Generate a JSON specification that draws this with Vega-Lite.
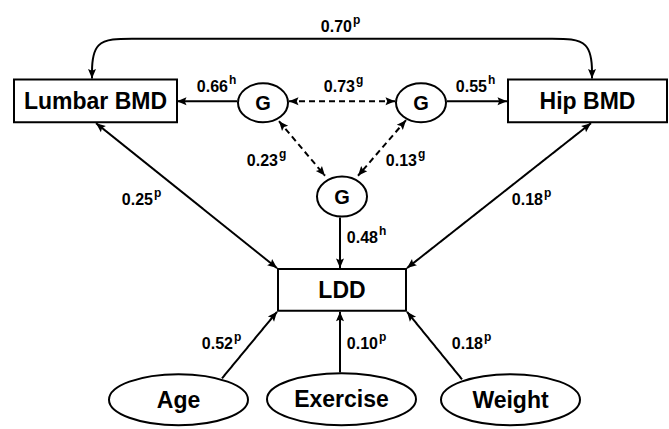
{
  "$schema": "https://vega.github.io/schema/vega-lite/v6.json",
  "width": 669,
  "height": 429,
  "autosize": {"type": "fit", "contains": "padding"},
  "padding": 0,
  "background": "white",
  "config": {"view": {"stroke": null}, "font": "Liberation Sans"},
  "datasets": {
    "nodes": [
      {"label": "Lumbar BMD", "kind": "box", "x1": 14, "x2": 177, "y1": 80, "y2": 123},
      {"label": "Hip BMD", "kind": "box", "x1": 508, "x2": 667, "y1": 80, "y2": 123},
      {"label": "LDD", "kind": "box", "x1": 278, "x2": 406, "y1": 271, "y2": 313},
      {"label": "G", "kind": "oval", "x1": 238, "x2": 288, "y1": 84, "y2": 123},
      {"label": "G", "kind": "oval", "x1": 396, "x2": 446, "y1": 84, "y2": 123},
      {"label": "G", "kind": "oval", "x1": 317, "x2": 367, "y1": 178, "y2": 218},
      {"label": "Age", "kind": "oval", "x1": 109, "x2": 248, "y1": 377, "y2": 428},
      {"label": "Exercise", "kind": "oval", "x1": 267, "x2": 416, "y1": 376, "y2": 428},
      {"label": "Weight", "kind": "oval", "x1": 441, "x2": 580, "y1": 377, "y2": 428}
    ],
    "edges": [
      {"x1": 177, "y1": 102, "x2": 237, "y2": 102, "style": "solid"},
      {"x1": 289, "y1": 102, "x2": 395, "y2": 102, "style": "dashed"},
      {"x1": 447, "y1": 102, "x2": 507, "y2": 102, "style": "solid"},
      {"x1": 279, "y1": 122, "x2": 325, "y2": 177, "style": "dashed"},
      {"x1": 406, "y1": 121, "x2": 358, "y2": 177, "style": "dashed"},
      {"x1": 96, "y1": 124, "x2": 277, "y2": 270, "style": "solid"},
      {"x1": 591, "y1": 124, "x2": 407, "y2": 270, "style": "solid"},
      {"x1": 340, "y1": 219, "x2": 340, "y2": 270, "style": "solid"},
      {"x1": 222, "y1": 381, "x2": 277, "y2": 314, "style": "solid"},
      {"x1": 340, "y1": 375, "x2": 340, "y2": 314, "style": "solid"},
      {"x1": 462, "y1": 382, "x2": 407, "y2": 314, "style": "solid"}
    ],
    "curve": [
      {"i": 0, "x": 92, "y": 79},
      {"i": 1, "x": 92, "y": 39},
      {"i": 2, "x": 132, "y": 39},
      {"i": 3, "x": 172, "y": 39},
      {"i": 4, "x": 512, "y": 39},
      {"i": 5, "x": 552, "y": 39},
      {"i": 6, "x": 592, "y": 39},
      {"i": 7, "x": 592, "y": 79}
    ],
    "heads": [
      {"tx": 92, "ty": 79, "fx": 92, "fy": 39},
      {"tx": 592, "ty": 79, "fx": 592, "fy": 39},
      {"tx": 177, "ty": 102, "fx": 237, "fy": 102},
      {"tx": 289, "ty": 102, "fx": 395, "fy": 102},
      {"tx": 395, "ty": 102, "fx": 289, "fy": 102},
      {"tx": 507, "ty": 102, "fx": 447, "fy": 102},
      {"tx": 279, "ty": 122, "fx": 325, "fy": 177},
      {"tx": 325, "ty": 177, "fx": 279, "fy": 122},
      {"tx": 406, "ty": 121, "fx": 358, "fy": 177},
      {"tx": 358, "ty": 177, "fx": 406, "fy": 121},
      {"tx": 96, "ty": 124, "fx": 277, "fy": 270},
      {"tx": 277, "ty": 270, "fx": 96, "fy": 124},
      {"tx": 591, "ty": 124, "fx": 407, "fy": 270},
      {"tx": 407, "ty": 270, "fx": 591, "fy": 124},
      {"tx": 340, "ty": 270, "fx": 340, "fy": 219},
      {"tx": 277, "ty": 314, "fx": 222, "fy": 381},
      {"tx": 340, "ty": 314, "fx": 340, "fy": 375},
      {"tx": 407, "ty": 314, "fx": 462, "fy": 382}
    ],
    "labels": [
      {"x": 352, "y": 32, "num": "0.70", "sup": "p"},
      {"x": 228, "y": 93, "num": "0.66", "sup": "h"},
      {"x": 355, "y": 93, "num": "0.73", "sup": "g"},
      {"x": 487, "y": 93, "num": "0.55", "sup": "h"},
      {"x": 278, "y": 167, "num": "0.23", "sup": "g"},
      {"x": 417, "y": 167, "num": "0.13", "sup": "g"},
      {"x": 153, "y": 206, "num": "0.25", "sup": "p"},
      {"x": 543, "y": 206, "num": "0.18", "sup": "p"},
      {"x": 378, "y": 245, "num": "0.48", "sup": "h"},
      {"x": 233, "y": 351, "num": "0.52", "sup": "p"},
      {"x": 378, "y": 351, "num": "0.10", "sup": "p"},
      {"x": 483, "y": 351, "num": "0.18", "sup": "p"}
    ]
  },
  "layer": [
    {
      "data": {"name": "curve"},
      "mark": {"type": "line", "interpolate": "basis", "color": "black", "strokeWidth": 2},
      "encoding": {
        "x": {"field": "x", "type": "quantitative", "scale": {"domain": [0, 669], "nice": false, "zero": false}, "axis": null},
        "y": {"field": "y", "type": "quantitative", "scale": {"domain": [0, 429], "nice": false, "zero": false, "reverse": true}, "axis": null},
        "order": {"field": "i", "type": "quantitative"}
      }
    },
    {
      "data": {"name": "edges"},
      "mark": {"type": "rule", "color": "black", "strokeWidth": 2},
      "encoding": {
        "x": {"field": "x1", "type": "quantitative"},
        "y": {"field": "y1", "type": "quantitative"},
        "x2": {"field": "x2"},
        "y2": {"field": "y2"},
        "strokeDash": {"field": "style", "type": "nominal", "scale": {"domain": ["solid", "dashed"], "range": [[1, 0], [6, 4]]}, "legend": null}
      }
    },
    {
      "data": {"name": "nodes"},
      "transform": [{"filter": "datum.kind === 'box'"}],
      "mark": {"type": "rect", "fill": "white", "stroke": "black", "strokeWidth": 2},
      "encoding": {
        "x": {"field": "x1", "type": "quantitative"},
        "x2": {"field": "x2"},
        "y": {"field": "y1", "type": "quantitative"},
        "y2": {"field": "y2"}
      }
    },
    {
      "data": {"name": "nodes"},
      "transform": [
        {"filter": "datum.kind === 'oval'"},
        {"calculate": "(datum.x1 + datum.x2) / 2", "as": "cx"},
        {"calculate": "(datum.y1 + datum.y2) / 2", "as": "cy"},
        {"calculate": "(datum.y2 - datum.y1) / (datum.x2 - datum.x1)", "as": "r"},
        {"calculate": "0.552 * datum.r", "as": "k"},
        {"calculate": "'M -1 0 C -1 ' + (-datum.k) + ' -0.552 ' + (-datum.r) + ' 0 ' + (-datum.r) + ' C 0.552 ' + (-datum.r) + ' 1 ' + (-datum.k) + ' 1 0 C 1 ' + datum.k + ' 0.552 ' + datum.r + ' 0 ' + datum.r + ' C -0.552 ' + datum.r + ' -1 ' + datum.k + ' -1 0 Z'", "as": "path"},
        {"calculate": "(datum.x2 - datum.x1) * (datum.x2 - datum.x1)", "as": "sz"}
      ],
      "mark": {"type": "point", "filled": true, "fill": "white", "stroke": "black", "strokeWidth": 2, "opacity": 1, "fillOpacity": 1, "strokeOpacity": 1},
      "encoding": {
        "x": {"field": "cx", "type": "quantitative"},
        "y": {"field": "cy", "type": "quantitative"},
        "shape": {"field": "path", "type": "nominal", "scale": null},
        "size": {"field": "sz", "type": "quantitative", "scale": null}
      }
    },
    {
      "data": {"name": "heads"},
      "transform": [
        {"calculate": "atan2(datum.tx - datum.fx, datum.fy - datum.ty) * 180 / PI", "as": "ang"}
      ],
      "mark": {"type": "point", "shape": "M 0 0 L 0.42 1 L 0 0.82 L -0.42 1 Z", "filled": true, "color": "black", "opacity": 1, "size": 361, "strokeWidth": 0},
      "encoding": {
        "x": {"field": "tx", "type": "quantitative"},
        "y": {"field": "ty", "type": "quantitative"},
        "angle": {"field": "ang", "type": "quantitative", "scale": null}
      }
    },
    {
      "data": {"name": "nodes"},
      "transform": [
        {"filter": "datum.label !== 'G'"},
        {"calculate": "(datum.x1 + datum.x2) / 2", "as": "cx"},
        {"calculate": "(datum.y1 + datum.y2) / 2", "as": "cy"}
      ],
      "mark": {"type": "text", "fontSize": 23, "fontWeight": "bold", "baseline": "middle", "align": "center", "dy": 1, "color": "black"},
      "encoding": {
        "x": {"field": "cx", "type": "quantitative"},
        "y": {"field": "cy", "type": "quantitative"},
        "text": {"field": "label"}
      }
    },
    {
      "data": {"name": "nodes"},
      "transform": [
        {"filter": "datum.label === 'G'"},
        {"calculate": "(datum.x1 + datum.x2) / 2", "as": "cx"},
        {"calculate": "(datum.y1 + datum.y2) / 2", "as": "cy"}
      ],
      "mark": {"type": "text", "fontSize": 20, "fontWeight": "bold", "baseline": "middle", "align": "center", "dy": 1, "color": "black"},
      "encoding": {
        "x": {"field": "cx", "type": "quantitative"},
        "y": {"field": "cy", "type": "quantitative"},
        "text": {"field": "label"}
      }
    },
    {
      "data": {"name": "labels"},
      "mark": {"type": "text", "fontSize": 16, "fontWeight": "bold", "baseline": "alphabetic", "align": "right", "color": "black"},
      "encoding": {
        "x": {"field": "x", "type": "quantitative"},
        "y": {"field": "y", "type": "quantitative"},
        "text": {"field": "num"}
      }
    },
    {
      "data": {"name": "labels"},
      "mark": {"type": "text", "fontSize": 12, "fontWeight": "bold", "baseline": "alphabetic", "align": "left", "dx": 1, "dy": -8, "color": "black"},
      "encoding": {
        "x": {"field": "x", "type": "quantitative"},
        "y": {"field": "y", "type": "quantitative"},
        "text": {"field": "sup"}
      }
    }
  ]
}
